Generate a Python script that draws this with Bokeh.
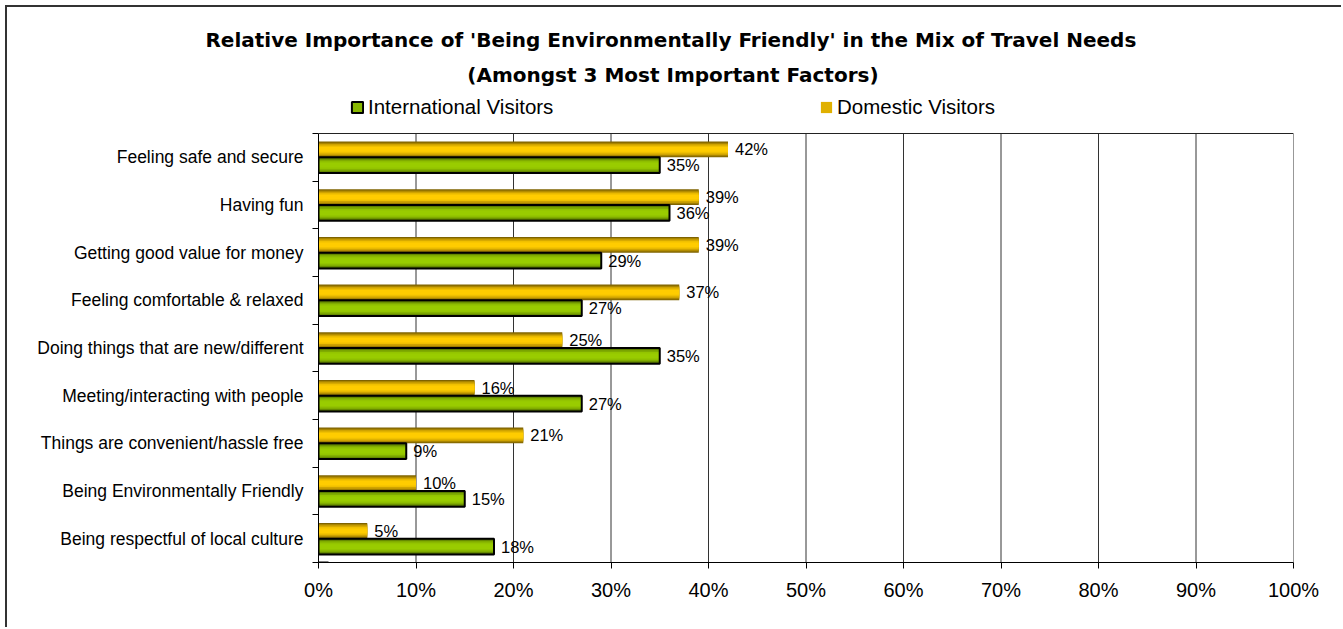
from bokeh.plotting import figure
from bokeh.models import (ColumnDataSource, FixedTicker, Legend, LegendItem, Range1d, Title)
from bokeh.core.properties import value
from bokeh.embed import file_html
from bokeh.resources import INLINE

# ---------------- data ----------------
categories = [
    "Feeling safe and secure",
    "Having fun",
    "Getting good value for money",
    "Feeling comfortable & relaxed",
    "Doing things that are new/different",
    "Meeting/interacting with people",
    "Things are convenient/hassle free",
    "Being Environmentally Friendly",
    "Being respectful of local culture",
]
international = [35, 36, 29, 27, 35, 27, 9, 15, 18]
domestic = [42, 39, 39, 37, 25, 16, 21, 10, 5]
series_names = ["International Visitors", "Domestic Visitors"]
x_ticks = [0, 10, 20, 30, 40, 50, 60, 70, 80, 90, 100]
x_tick_labels = ["0%", "10%", "20%", "30%", "40%", "50%", "60%", "70%", "80%", "90%", "100%"]
title_lines = [
    "Relative Importance of 'Being Environmentally Friendly' in the Mix of Travel Needs",
    "(Amongst 3 Most Important Factors)",
]

n = len(categories)
centers = [n - i - 0.5 for i in range(n)]
BAR_H = 0.33
dom_y = [c + BAR_H / 2 for c in centers]
int_y = [c - BAR_H / 2 for c in centers]

src = ColumnDataSource(dict(
    cat=categories, intl=international, dom=domestic,
    dom_y=dom_y, int_y=int_y,
    dom_lbl=[f"{v}%" for v in domestic],
    int_lbl=[f"{v}%" for v in international],
))

OFF = 7  # canvas origin offset inside page (margin + border)
W, H = 1343 - OFF, 629 - OFF
PLOT_L, PLOT_R, PLOT_T, PLOT_B = 318, 1293, 133, 562   # plot area (bars region)
FRAME_T = 91                                            # frame extended up for legend
row_px = (PLOT_B - PLOT_T) / n
y_top = n + (PLOT_T - FRAME_T) / row_px

p = figure(width=W, height=H, output_backend="svg", toolbar_location=None,
           title=None,
           x_range=Range1d(0, 100), y_range=Range1d(0, y_top),
           min_border_left=PLOT_L - OFF, min_border_right=1343 - PLOT_R,
           min_border_top=FRAME_T - OFF, min_border_bottom=629 - PLOT_B)
p.styles = {"margin-left": "5px", "margin-top": "5px",
            "border-left": "2px solid #333", "border-top": "2px solid #333"}
p.background_fill_color = "white"
p.border_fill_color = "white"
p.outline_line_color = None

# grid (drawn only over the plot area)
p.xgrid.grid_line_color = None
p.ygrid.grid_line_color = None
p.segment(x0=x_ticks[1:], y0=0, x1=x_ticks[1:], y1=n, line_color="#333333", line_width=1)
p.segment(x0=[0], y0=[n], x1=[100], y1=[n], line_color="#222222", line_width=1)

# x axis
xa = p.xaxis[0]
xa.ticker = FixedTicker(ticks=x_ticks)
xa.major_label_overrides = {t: l for t, l in zip(x_ticks, x_tick_labels)}
xa.major_label_text_font = "Liberation Sans"
xa.major_label_text_font_size = "20px"
xa.major_label_text_color = "black"
xa.major_tick_out = 6
xa.major_tick_in = 0
xa.minor_tick_line_color = None
xa.axis_line_color = "black"
xa.major_tick_line_color = "black"
xa.major_label_standoff = 10

# y axis: labels at centres, ticks at boundaries
ya = p.yaxis[0]
ya.bounds = (0, n)
ya.ticker = FixedTicker(ticks=centers, minor_ticks=list(range(n + 1)))
ya.major_label_overrides = {c: cat for c, cat in zip(centers, categories)}
ya.major_label_text_font = "Liberation Sans"
ya.major_label_text_font_size = "17.5px"
ya.major_label_text_color = "black"
ya.major_tick_line_color = None
ya.major_tick_out = 6
ya.minor_tick_out = 6
ya.minor_tick_in = 0
ya.minor_tick_line_color = "black"
ya.axis_line_color = "black"
ya.major_label_standoff = 9

# bars with emulated vertical gradient
layers = [1.0, 0.85, 0.7, 0.5, 0.3]
yellow = ["#7f6300", "#a88400", "#cfa300", "#f0c000", "#ffcc00"]
green = ["#4a6300", "#668a00", "#80ac00", "#93c400", "#99cc00"]

for f, cy, cg in zip(layers, yellow, green):
    p.hbar(y="dom_y", right="dom", left=0, height=BAR_H * f, source=src,
           fill_color=cy, line_color=None)
    p.hbar(y="int_y", right="intl", left=0, height=BAR_H * f, source=src,
           fill_color=cg, line_color=None)
p.hbar(y="int_y", right="intl", left=0, height=BAR_H, source=src,
       fill_alpha=0, line_color="black", line_width=2)

# data labels
for xcol, ycol, tcol in [("dom", "dom_y", "dom_lbl"), ("intl", "int_y", "int_lbl")]:
    p.text(x=xcol, y=ycol, text=tcol, source=src, x_offset=7,
           text_baseline="middle", text_align="left", text_color="black",
           text_font=value("Liberation Sans"), text_font_size="16.5px")

# legend swatch renderers (kept outside the visible range)
leg_int = p.hbar(y=[-5], right=[1], left=0, height=0.3, fill_color="#88b800",
                 line_color="black", line_width=2)
leg_dom = p.hbar(y=[-5], right=[1], left=0, height=0.3, fill_color="#e0b000",
                 line_color=None)

SW_INT, SW_DOM = 350, 819
LEG_CY = 108
LEG_H = 22
legend = Legend(items=[LegendItem(label=series_names[0], renderers=[leg_int]),
                       LegendItem(label=series_names[1], renderers=[leg_dom])],
                location=(SW_INT - PLOT_L, PLOT_B - (LEG_CY + LEG_H / 2)),
                orientation="horizontal",
                padding=0, margin=0, spacing=0, label_standoff=4,
                glyph_width=14, glyph_height=14,
                label_width=SW_DOM - SW_INT - 14 - 4, label_height=LEG_H,
                label_text_font="Liberation Sans", label_text_font_size="20.5px",
                label_text_color="black", border_line_alpha=0,
                background_fill_alpha=0)
p.add_layout(legend, "center")

# titles (line 2 nearer the plot, line 1 on top)
CENTER = 673
widths_em = [46.804, 20.614]  # approx. DejaVu Sans Bold advance widths
for line, wem in [(title_lines[1], widths_em[1]), (title_lines[0], widths_em[0])]:
    start = CENTER - wem * 20 / 2
    p.add_layout(Title(text=line, align="left", offset=start - PLOT_L,
                       text_font="DejaVu Sans", text_font_style="bold",
                       text_font_size="20px", text_color="black", standoff=9),
                 "above")

open("out.html", "w").write(file_html(p, INLINE))
